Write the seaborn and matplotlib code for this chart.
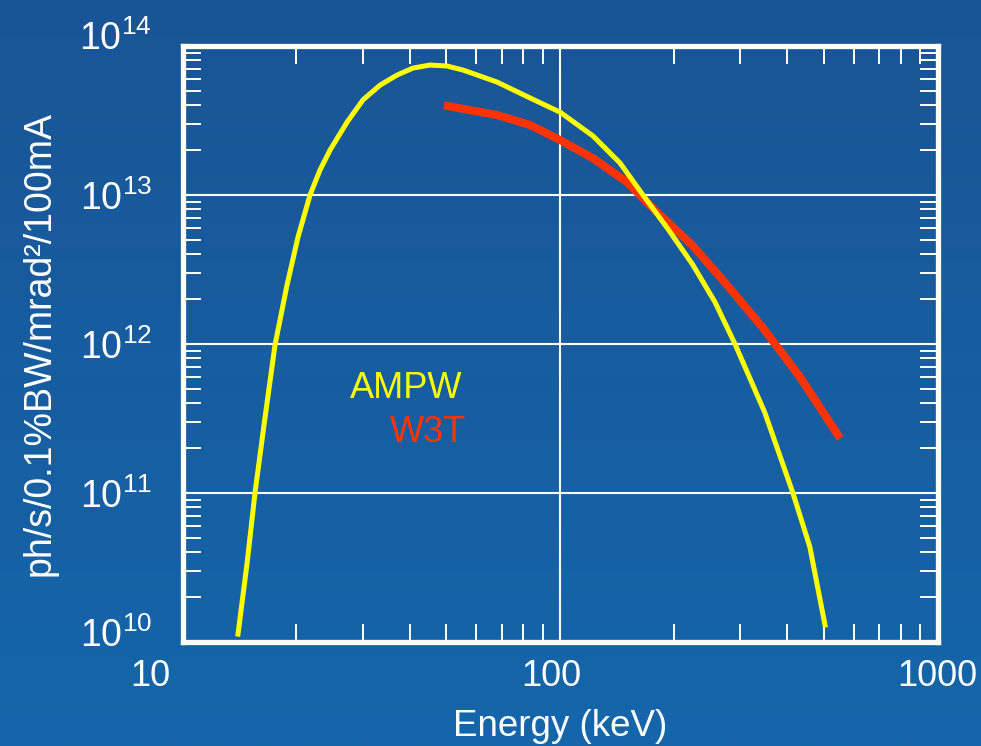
import numpy as np
import pandas as pd
import matplotlib
matplotlib.use("Agg")
import matplotlib.pyplot as plt
import matplotlib.ticker as mticker
from matplotlib.transforms import ScaledTranslation
import seaborn as sns

# ---- data ----
ampw_energy = [14.03, 14.83, 15.56, 16.44, 17.58, 18.92, 20.23, 21.77, 23.13, 24.59, 27.3,
               30.07, 33.4, 37.0, 40.8, 45.25, 50.2, 55.3, 68.1, 83.3, 100, 122.3, 144.2,
               165.9, 193.2, 225, 257.4, 290.8, 349, 414, 459, 503.5]
ampw_flux = [1.13e10, 3.39e10, 1.0e11, 2.86e11, 9.84e11, 2.49e12, 5.22e12, 1.0e13, 1.47e13,
             2.0e13, 3.09e13, 4.35e13, 5.47e13, 6.38e13, 7.11e13, 7.45e13, 7.34e13, 6.9e13,
             5.73e13, 4.48e13, 3.6e13, 2.49e13, 1.64e13, 1.0e13, 5.91e12, 3.39e12, 1.91e12,
             1.0e12, 3.45e11, 1.0e11, 4.35e10, 1.3e10]
w3t_energy = [50.5, 68.1, 83.3, 100, 122.5, 150.5, 178.5, 225, 277, 345, 432, 545]
w3t_flux = [3.95e13, 3.44e13, 2.95e13, 2.34e13, 1.76e13, 1.22e13, 7.9e12, 4.55e12, 2.49e12,
            1.28e12, 6.01e11, 2.45e11]
series_names = ["AMPW", "W3T"]
series_colors = ["#ffff00", "#ff3300"]
x_ticks = [10, 100, 1000]
x_ticklabels = ["10", "100", "1000"]
y_ticks = [1e10, 1e11, 1e12, 1e13, 1e14]
y_ticklabels = [r"$\mathregular{10^{10}}$", r"$\mathregular{10^{11}}$", r"$\mathregular{10^{12}}$",
                r"$\mathregular{10^{13}}$", r"$\mathregular{10^{14}}$"]

df_ampw = pd.DataFrame({"energy": ampw_energy, "flux": ampw_flux})
df_w3t = pd.DataFrame({"energy": w3t_energy, "flux": w3t_flux})

plt.rcParams["font.family"] = ["Liberation Sans", "DejaVu Sans"]
plt.rcParams["mathtext.fontset"] = "custom"
plt.rcParams["mathtext.rm"] = "Liberation Sans"
plt.rcParams["mathtext.it"] = "Liberation Sans:italic"
plt.rcParams["mathtext.bf"] = "Liberation Sans:bold"

fig = plt.figure(figsize=(9.81, 7.46), dpi=100)

# gradient background
bg = fig.add_axes([0, 0, 1, 1], zorder=-10)
grad = np.linspace(0, 1, 256).reshape(-1, 1)
top = np.array([0x1a, 0x55, 0x96]) / 255.0
bot = np.array([0x14, 0x66, 0xaa]) / 255.0
img = top[None, None, :] * (1 - grad[:, :, None]) + bot[None, None, :] * grad[:, :, None]
bg.imshow(img, aspect="auto", extent=[0, 1, 0, 1])
bg.set_axis_off()

ax = fig.add_axes([182.5 / 981, (746 - 642) / 746, (937.5 - 182.5) / 981, (642 - 46) / 746])
ax.set_facecolor("none")

sns.lineplot(data=df_ampw, x="energy", y="flux", ax=ax, color=series_colors[0],
             linewidth=3.6, estimator=None, sort=False, zorder=3)
sns.lineplot(data=df_w3t, x="energy", y="flux", ax=ax, color=series_colors[1],
             linewidth=5.8, estimator=None, sort=False, zorder=2)
for ln in ax.get_lines():
    ln.set_solid_joinstyle("round")

ax.set_xscale("log")
ax.set_yscale("log")
ax.set_xlim(10, 1000)
ax.set_ylim(1e10, 1e14)

ax.set_xticks(x_ticks)
ax.set_xticklabels(x_ticklabels)
ax.set_yticks(y_ticks)
ax.set_yticklabels(y_ticklabels)
ax.xaxis.set_minor_locator(mticker.LogLocator(base=10, subs=np.arange(2, 10), numticks=20))
ax.yaxis.set_minor_locator(mticker.LogLocator(base=10, subs=np.arange(2, 10), numticks=20))
ax.xaxis.set_minor_formatter(mticker.NullFormatter())
ax.yaxis.set_minor_formatter(mticker.NullFormatter())

ax.tick_params(axis="both", which="minor", direction="in", length=13, width=1.4,
               color="white", top=True, right=True, bottom=True, left=True)
ax.tick_params(axis="both", which="major", length=0, colors="white")
ax.tick_params(axis="x", which="major", pad=12, labelsize=26)
ax.tick_params(axis="y", which="major", pad=22, labelsize=27)

ax.grid(True, which="major", color="white", linewidth=1.5)
ax.set_axisbelow(True)
for s in ax.spines.values():
    s.set_color("white")
    s.set_linewidth(3.8)

# small offsets of tick labels as in the reference
x_offsets_px = [-32, -9, 0]
for lab, dx in zip(ax.get_xticklabels(), x_offsets_px):
    lab.set_transform(lab.get_transform() + ScaledTranslation(dx / 100, 0, fig.dpi_scale_trans))
y_offsets_px = [10, 0, 0, 0, 11]
for lab, dy in zip(ax.get_yticklabels(), y_offsets_px):
    lab.set_transform(lab.get_transform() + ScaledTranslation(0, dy / 100, fig.dpi_scale_trans))

ax.set_xlabel("Energy (keV)", color="white", fontsize=26.5, labelpad=11)
ax.set_ylabel("ph/s/0.1%BW/mrad²/100mA", color="white", fontsize=27, labelpad=16)

ax.text(27.8, 4.34e11, series_names[0], color=series_colors[0], fontsize=26, va="baseline", ha="left")
ax.text(35.4, 2.2e11, series_names[1], color=series_colors[1], fontsize=26, va="baseline", ha="left")

fig.savefig("out.png", dpi=100)
